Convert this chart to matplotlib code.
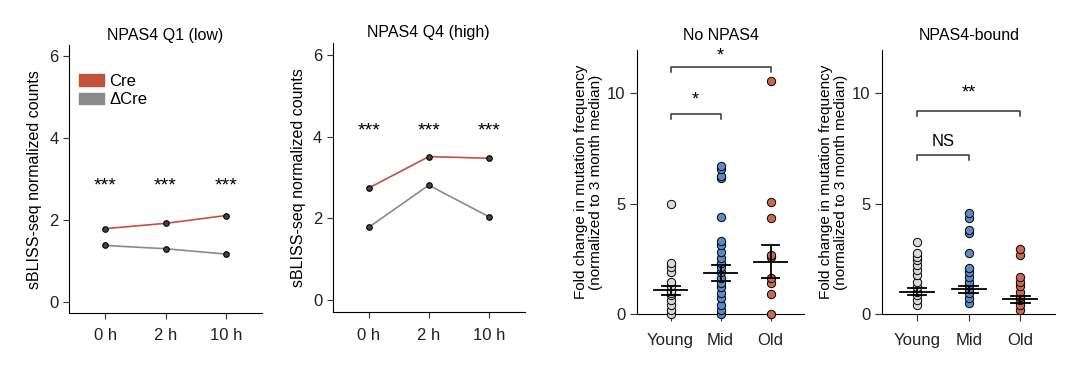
import matplotlib
matplotlib.use('Agg')
import matplotlib.pyplot as plt
from matplotlib.patches import Patch
import numpy as np

plt.rcParams['font.family'] = ['Liberation Sans', 'DejaVu Sans']

# line panels
time_labels = ['0 h', '2 h', '10 h']
q1_cre = [1.79, 1.92, 2.11]
q1_dcre = [1.38, 1.30, 1.17]
q4_cre = [2.74, 3.51, 3.47]
q4_dcre = [1.78, 2.81, 2.04]
q1_star_y = 2.83
q4_star_y = 4.14

# dot panels
groups = ['Young', 'Mid', 'Old']
no_young = [0, 0.18, 0.41, 0.63, 0.86, 0.95, 1.05, 1.27, 1.46, 1.91, 2.11, 2.32, 5.0]
no_mid = [0, 0.18, 0.41, 0.74, 0.94, 1.24, 1.39, 1.61, 1.91, 2.14, 2.29, 2.52, 2.79,
          3.12, 3.32, 4.37, 6.15, 6.25, 6.55, 6.7]
no_old = [0, 0.9, 1.42, 1.61, 2.57, 2.67, 4.33, 5.05, 10.54]
no_mean = [1.09, 1.87, 2.37]
no_lo = [0.86, 1.51, 1.61]
no_hi = [1.27, 2.22, 3.12]

b_young = [0.41, 0.63, 0.86, 1.01, 1.24, 1.47, 1.77, 2.0, 2.22, 2.45, 2.57, 2.75, 3.28]
b_mid = [0.48, 0.71, 0.94, 1.12, 1.32, 1.47, 1.69, 1.92, 2.07, 2.78, 3.66, 3.81, 4.34, 4.57]
b_old = [0.18, 0.41, 0.63, 0.78, 1.01, 1.27, 1.47, 1.69, 2.68, 2.93]
b_mean = [1.01, 1.12, 0.67]
b_lo = [0.86, 0.97, 0.52]
b_hi = [1.16, 1.27, 0.82]

cre_col = '#c0533b'
dcre_col = '#8a8a8a'
dot_cols = ['#d9d9d9', '#5b8bc7', '#c9694f']

fig = plt.figure(figsize=(10.8, 3.67), dpi=100)


def line_panel(rect, cre, dcre, star_y, title, ylim):
    ax = fig.add_axes(rect)
    x = np.arange(1, len(time_labels) + 1)
    ax.plot(x, cre, color=cre_col, lw=1.2, zorder=2)
    ax.plot(x, dcre, color=dcre_col, lw=1.2, zorder=2)
    ax.plot(x, cre, 'o', ms=4, mfc='#444444', mec='black', mew=0.8, zorder=3)
    ax.plot(x, dcre, 'o', ms=4, mfc='#444444', mec='black', mew=0.8, zorder=3)
    for xi in x:
        ax.text(xi, star_y, '***', ha='center', va='center', fontsize=14)
    ax.set_xlim(0.4, 3.6)
    ax.set_ylim(*ylim)
    ax.set_xticks(x)
    ax.set_xticklabels(time_labels)
    ax.set_yticks([0, 2, 4, 6])
    ax.spines['top'].set_visible(False)
    ax.spines['right'].set_visible(False)
    ax.tick_params(labelsize=12, length=4, color='#333333', labelcolor='#222222')
    ax.tick_params(axis='x', pad=7)
    ax.set_ylabel('sBLISS-seq normalized counts', fontsize=11.5, labelpad=5)
    ax.set_title(title, fontsize=11.5, pad=4)
    return ax


ax1 = line_panel([0.0639, 0.147, 0.1787, 0.73], q1_cre, q1_dcre, q1_star_y,
                 'NPAS4 Q1 (low)', (-0.27, 6.27))
ax1.legend(handles=[Patch(color=cre_col, label='Cre'), Patch(color=dcre_col, label='ΔCre')],
           loc='upper left', bbox_to_anchor=(0.0, 0.93), frameon=False, fontsize=12,
           handlelength=1.5, handleheight=0.65, handletextpad=0.3, labelspacing=0.2,
           borderaxespad=0.2)
ax2 = line_panel([0.308, 0.149, 0.178, 0.735], q4_cre, q4_dcre, q4_star_y,
                 'NPAS4 Q4 (high)', (-0.3, 6.3))


def dot_panel(rect, data, mean, lo, hi, title, xlim, brackets):
    ax = fig.add_axes(rect)
    for i, vals in enumerate(data):
        xi = i + 1
        ax.scatter([xi] * len(vals), vals, s=36, c=dot_cols[i], edgecolors='black',
                   linewidths=0.7, zorder=3, clip_on=False)
        ax.plot([xi - 0.33, xi + 0.33], [mean[i]] * 2, color='black', lw=1.3, zorder=4)
        ax.plot([xi, xi], [lo[i], hi[i]], color='black', lw=1.3, zorder=4)
        ax.plot([xi - 0.18, xi + 0.18], [lo[i]] * 2, color='black', lw=1.3, zorder=4)
        ax.plot([xi - 0.18, xi + 0.18], [hi[i]] * 2, color='black', lw=1.3, zorder=4)
    for x1, x2, y, label, dy in brackets:
        ax.plot([x1, x1, x2, x2], [y - 0.22, y, y, y - 0.22], color='#333333', lw=1.1)
        ax.text((x1 + x2) / 2, y + dy, label, ha='center', va='center',
                fontsize=12 if label == 'NS' else 13)
    ax.set_xlim(*xlim)
    ax.set_ylim(0, 11.95)
    ax.set_xticks([1, 2, 3])
    ax.set_xticklabels(groups)
    ax.set_yticks([0, 5, 10])
    ax.spines['top'].set_visible(False)
    ax.spines['right'].set_visible(False)
    ax.tick_params(labelsize=12, length=5, color='#333333', labelcolor='#222222')
    ax.tick_params(axis='x', pad=9)
    ax.set_ylabel('Fold change in mutation frequency\n(normalized to 3 month median)',
                  fontsize=11, labelpad=3, linespacing=1.1)
    ax.set_title(title, fontsize=11.5, pad=7)
    return ax


ax3 = dot_panel([0.590, 0.1444, 0.1544, 0.7193], [no_young, no_mid, no_old],
                no_mean, no_lo, no_hi, 'No NPAS4', (0.33, 3.67),
                [(1, 3, 11.19, '*', 0.5), (1, 2, 9.04, '*', 0.65)])
ax4 = dot_panel([0.817, 0.1444, 0.160, 0.7193], [b_young, b_mid, b_old],
                b_mean, b_lo, b_hi, 'NPAS4-bound', (0.326, 3.674),
                [(1, 3, 9.2, '**', 0.8), (1, 2, 7.2, 'NS', 0.6)])

fig.savefig('out.png', dpi=100)
